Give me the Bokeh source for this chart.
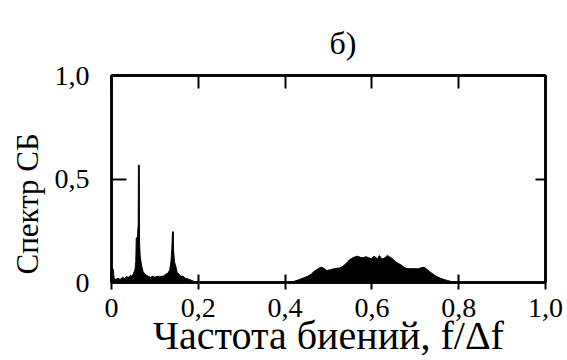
from bokeh.plotting import figure
from bokeh.models import LinearAxis, FixedTicker, Range1d, Title, CustomJSTickFormatter
from bokeh.embed import file_html
from bokeh.resources import INLINE

title_text = "б)"
x_label = "Частота биений, f/Δf"
y_label = "Спектр СБ"
x_ticks = [0, 0.2, 0.4, 0.6, 0.8, 1]
x_tick_labels = ["0", "0,2", "0,4", "0,6", "0,8", "1,0"]
y_ticks = [0, 0.5, 1]
y_tick_labels = ["0", "0,5", "1,0"]

spectrum_freq = [
    0.000, 0.004, 0.006, 0.010, 0.015, 0.020, 0.025, 0.030, 0.035, 0.040,
    0.044, 0.048, 0.051, 0.054, 0.056, 0.057, 0.060, 0.0615, 0.062, 0.064,
    0.0645, 0.066, 0.068, 0.070, 0.073, 0.076, 0.080, 0.085, 0.090, 0.095,
    0.100, 0.105, 0.110, 0.115, 0.120, 0.125, 0.130, 0.134, 0.137, 0.139,
    0.1405, 0.1425, 0.143, 0.145, 0.148, 0.151, 0.155, 0.160, 0.165, 0.170,
    0.175, 0.180, 0.185, 0.190, 0.196, 0.400,
    0.415, 0.430, 0.440, 0.452, 0.460, 0.467, 0.475, 0.483, 0.490, 0.495,
    0.505, 0.513, 0.525, 0.533, 0.540, 0.544, 0.550, 0.556, 0.562, 0.567,
    0.573, 0.579, 0.586, 0.592, 0.598, 0.605, 0.610, 0.613, 0.617, 0.621,
    0.624, 0.630, 0.636, 0.640, 0.644, 0.650, 0.655, 0.661, 0.667, 0.672,
    0.678, 0.688, 0.697, 0.705, 0.712, 0.720, 0.726, 0.732, 0.738, 0.743,
    0.750, 0.759, 0.766, 0.774, 0.782, 0.790, 0.800, 1.000,
]
spectrum_amp = [
    0.070, 0.065, 0.020, 0.015, 0.020, 0.015, 0.025, 0.020, 0.028, 0.025,
    0.035, 0.030, 0.045, 0.060, 0.100, 0.215, 0.220, 0.280, 0.567, 0.567,
    0.200, 0.130, 0.100, 0.075, 0.050, 0.045, 0.035, 0.030, 0.025, 0.030,
    0.025, 0.030, 0.028, 0.030, 0.032, 0.040, 0.045, 0.060, 0.100, 0.160,
    0.245, 0.245, 0.160, 0.100, 0.080, 0.050, 0.040, 0.030, 0.030, 0.020,
    0.018, 0.014, 0.010, 0.005, 0.000, 0.000,
    0.002, 0.012, 0.020, 0.030, 0.040, 0.054, 0.065, 0.074, 0.068, 0.058,
    0.062, 0.067, 0.070, 0.078, 0.090, 0.100, 0.112, 0.119, 0.125, 0.127,
    0.122, 0.119, 0.125, 0.120, 0.115, 0.127, 0.120, 0.113, 0.130, 0.120,
    0.113, 0.120, 0.131, 0.125, 0.120, 0.110, 0.100, 0.092, 0.085, 0.077,
    0.069, 0.066, 0.067, 0.066, 0.070, 0.074, 0.065, 0.054, 0.045, 0.038,
    0.028, 0.020, 0.014, 0.010, 0.005, 0.002, 0.000, 0.000,
]

FONT = "Liberation Serif"

p = figure(
    width=567, height=360,
    x_range=Range1d(0, 1), y_range=Range1d(0, 1),
    output_backend="svg", toolbar_location=None,
    min_border_left=110, min_border_right=22,
    min_border_top=75, min_border_bottom=77,
)
p.background_fill_color = "white"
p.border_fill_color = "white"
p.grid.visible = False
p.outline_line_color = "black"
p.outline_line_width = 2.5

p.varea(x=spectrum_freq, y1=0, y2=spectrum_amp, fill_color="black")
p.line(x=spectrum_freq, y=spectrum_amp, line_color="black", line_width=1)

def style(ax):
    ax.axis_line_color = "black"
    ax.axis_line_width = 2.5
    ax.major_tick_line_color = "black"
    ax.major_tick_line_width = 2
    ax.minor_tick_line_color = None
    ax.major_label_text_font = FONT
    ax.major_label_text_font_style = "normal"
    ax.major_label_text_color = "black"
    ax.axis_label_text_font = FONT
    ax.axis_label_text_font_style = "normal"
    ax.axis_label_text_color = "black"

blank = CustomJSTickFormatter(code="return ''")

xa = p.xaxis[0]
style(xa)
xa.ticker = FixedTicker(ticks=x_ticks)
xa.major_label_overrides = dict(zip(x_ticks, x_tick_labels))
xa.major_label_text_font_size = "28px"
xa.major_tick_in = 8
xa.major_tick_out = 7
xa.major_label_standoff = 9
xa.axis_label = x_label
xa.axis_label_text_font_size = "40px"
xa.axis_label_standoff = -7

ya = p.yaxis[0]
style(ya)
ya.ticker = FixedTicker(ticks=y_ticks)
ya.major_label_overrides = dict(zip(y_ticks, y_tick_labels))
ya.major_label_text_font_size = "28px"
ya.major_tick_in = 15
ya.major_tick_out = 0
ya.major_label_standoff = 22

top = LinearAxis(ticker=FixedTicker(ticks=x_ticks), formatter=blank)
style(top)
top.major_tick_in = 13
top.major_tick_out = 0
top.major_label_standoff = 0
p.add_layout(top, "above")

right = LinearAxis(ticker=FixedTicker(ticks=y_ticks), formatter=blank)
style(right)
right.major_tick_in = 10
right.major_tick_out = 0
right.major_label_standoff = 0
p.add_layout(right, "right")

p.add_layout(Title(text=title_text, text_font=FONT, text_font_size="32px",
                   text_font_style="normal", text_color="black",
                   align="left", offset=218, standoff=29), "above")

p.add_layout(Title(text=y_label, text_font=FONT, text_font_size="31px",
                   text_font_style="normal", text_color="black",
                   align="left", offset=8, standoff=14), "left")

open("out.html", "w").write(file_html(p, INLINE))
